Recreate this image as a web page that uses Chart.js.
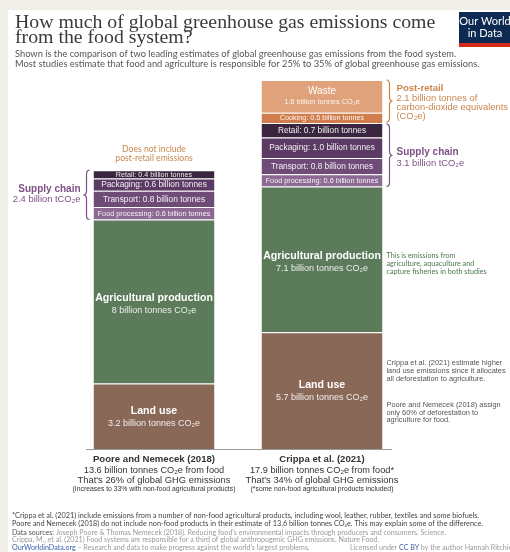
<!DOCTYPE html>
<html>
<head>
<meta charset="utf-8">
<script src="https://cdn.jsdelivr.net/npm/chart.js@4"></script>
<style>
  html, body { margin: 0; padding: 0; background: #fff; }
</style>
</head>
<body>
<canvas id="foodChart" width="510" height="552"></canvas>
<script>
// Data (billion tonnes CO2e)
var studies = ["Poore and Nemecek (2018)", "Crippa et al. (2021)"];
var landUse = [3.2, 5.7];
var agriculture = [8, 7.1];
var foodProcessing = [0.6, 0.6];
var transport = [0.8, 0.8];
var packaging = [0.6, 1.0];
var retail = [0.4, 0.7];
var cooking = [0, 0.5];
var waste = [0, 1.6];
var totals = [13.6, 17.9];
var ghgShare = [26, 34];
var ghgShareWithNonFood = 33;

var SANS = "'Liberation Sans', Arial, sans-serif";
var LATO = "Lato, 'Open Sans', sans-serif";
var PURPLE = "#7d5287";
var ORANGE = "#c8864d";

function text(ctx, str, x, y, font, color, align) {
  ctx.font = font;
  ctx.fillStyle = color;
  ctx.textAlign = align || "left";
  ctx.textBaseline = "middle";
  ctx.fillText(str, x, y);
}

// draws several coloured pieces one after another
function richText(ctx, parts, x, y, size) {
  ctx.textBaseline = "middle";
  ctx.textAlign = "left";
  parts.forEach(function (p) {
    ctx.font = (p.bold ? "bold " : "") + size + "px " + LATO;
    ctx.fillStyle = p.color;
    ctx.fillText(p.t, x, y);
    x += ctx.measureText(p.t).width;
  });
}

function drawBrace(ctx, x, top, bottom, dir, color) {
  var w = 6 * dir, mid = (top + bottom) / 2, r = 4;
  ctx.save();
  ctx.strokeStyle = color;
  ctx.lineWidth = 1.2;
  ctx.beginPath();
  ctx.moveTo(x, top);
  ctx.quadraticCurveTo(x + w / 2, top, x + w / 2, top + r);
  ctx.lineTo(x + w / 2, mid - r);
  ctx.quadraticCurveTo(x + w / 2, mid, x + w, mid);
  ctx.quadraticCurveTo(x + w / 2, mid, x + w / 2, mid + r);
  ctx.lineTo(x + w / 2, bottom - r);
  ctx.quadraticCurveTo(x + w / 2, bottom, x, bottom);
  ctx.stroke();
  ctx.restore();
}

function sum(arrs, i) {
  return arrs.reduce(function (s, a) { return s + a[i]; }, 0);
}

// label text + font size for every segment, [left bar, right bar]
var segmentLabels = {
  "Food processing": function (i) { return ["Food processing: " + foodProcessing[i].toFixed(1) + " billion tonnes", [7.3, 7.3]]; },
  "Transport": function (i) { return ["Transport: " + transport[i].toFixed(1) + " billion tonnes", [8.3, 8.3]]; },
  "Packaging": function (i) { return ["Packaging: " + packaging[i].toFixed(1) + " billion tonnes", [8.3, 8.3]]; },
  "Retail": function (i) { return ["Retail: " + retail[i].toFixed(1) + " billion tonnes", [7.2, 8.3]]; },
  "Cooking": function (i) { return ["Cooking: " + cooking[i].toFixed(1) + " billion tonnes", [7.2, 7.2]]; }
};

var annotations = {
  id: "annotations",
  beforeDraw: function (chart) {
    var ctx = chart.ctx;
    ctx.save();
    ctx.fillStyle = "#efefe8";
    ctx.fillRect(0, 0, chart.width, chart.height);
    ctx.fillStyle = "#ffffff";
    ctx.fillRect(8, 10, chart.width - 8, chart.height - 10);
    ctx.restore();
  },
  afterDatasetsDraw: function (chart) {
    var ctx = chart.ctx;
    ctx.save();
    chart.data.datasets.forEach(function (ds, d) {
      var meta = chart.getDatasetMeta(d);
      meta.data.forEach(function (bar, i) {
        if (!ds.data[i]) return;
        var cx = bar.x, top = bar.y, bottom = bar.base, mid = (top + bottom) / 2;
        if (ds.label === "Agricultural production") {
          text(ctx, "Agricultural production", cx, mid - 3, "bold 10.6px " + SANS, "#ffffff", "center");
          text(ctx, agriculture[i] + " billion tonnes CO₂e", cx, mid + 9, "9px " + SANS, "rgba(255,255,255,0.88)", "center");
        } else if (ds.label === "Land use") {
          text(ctx, "Land use", cx, mid - 5, "bold 10.6px " + SANS, "#ffffff", "center");
          text(ctx, landUse[i] + " billion tonnes CO₂e", cx, mid + 7, "9px " + SANS, "rgba(255,255,255,0.88)", "center");
        } else if (ds.label === "Waste") {
          text(ctx, "Waste", cx, mid - 5, "10px " + SANS, "#ffffff", "center");
          text(ctx, waste[i] + " billion tonnes CO₂e", cx, mid + 6, "7.4px " + SANS, "rgba(255,255,255,0.9)", "center");
        } else if (segmentLabels[ds.label]) {
          var l = segmentLabels[ds.label](i);
          text(ctx, l[0], cx, mid + 0.5, l[1][i] + "px " + SANS, "rgba(255,255,255,0.92)", "center");
        }
      });
    });
    ctx.restore();
  },
  afterDraw: function (chart) {
    var ctx = chart.ctx;
    var x = chart.scales.x, y = chart.scales.y;
    var meta = function (label) {
      var idx = chart.data.datasets.findIndex(function (d) { return d.label === label; });
      return chart.getDatasetMeta(idx).data;
    };
    ctx.save();

    // title and subtitle
    ctx.font = "19.8px 'Liberation Serif', 'DejaVu Serif', serif";
    ctx.fillStyle = "#3a3a3a";
    ctx.textAlign = "left";
    ctx.textBaseline = "alphabetic";
    ctx.fillText("How much of global greenhouse gas emissions come", 15, 28);
    ctx.fillText("from the food system?", 15, 43);
    text(ctx, "Shown is the comparison of two leading estimates of global greenhouse gas emissions from the food system.", 15, 54, "9.3px " + LATO, "#555555");
    text(ctx, "Most studies estimate that food and agriculture is responsible for 25% to 35% of global greenhouse gas emissions.", 15, 64, "9.3px " + LATO, "#555555");

    // logo
    ctx.fillStyle = "#0d2a52";
    ctx.fillRect(459, 12, 51, 35);
    ctx.fillStyle = "#d42b1e";
    ctx.fillRect(459, 43, 51, 4);
    text(ctx, "Our World", 485, 21, "11px " + LATO, "#ffffff", "center");
    text(ctx, "in Data", 485, 33, "11px " + LATO, "#ffffff", "center");

    // baseline
    var x0 = x.getPixelForValue(0), x1 = x.getPixelForValue(1), y0 = y.getPixelForValue(0);
    ctx.strokeStyle = "#9a9a9a";
    ctx.lineWidth = 1;
    ctx.beginPath();
    ctx.moveTo(x0 - 68, y0 + 0.5);
    ctx.lineTo(x1 + 70, y0 + 0.5);
    ctx.stroke();

    // bottom captions
    var notes = ["(Increases to " + ghgShareWithNonFood + "% with non-food agricultural products)", "(*some non-food agricultural products included)"];
    [x0, x1].forEach(function (cx, i) {
      text(ctx, studies[i], cx, 459, "bold 9.6px " + SANS, "#333333", "center");
      text(ctx, totals[i] + " billion tonnes CO₂e from food" + (i ? "*" : ""), cx, 470, "9.2px " + SANS, "#333333", "center");
      text(ctx, "That's " + ghgShare[i] + "% of global GHG emissions", cx, 480, "9.4px " + SANS, "#333333", "center");
      text(ctx, notes[i], cx, 489, "6.8px " + SANS, "#333333", "center");
    });

    // left bar: supply chain brace
    var lTop = meta("Retail")[0], lBot = meta("Food processing")[0];
    var lLeft = lTop.x - lTop.width / 2;
    drawBrace(ctx, lLeft - 4, lTop.y, lBot.base, -1, PURPLE);
    var lMid = (lTop.y + lBot.base) / 2;
    text(ctx, "Supply chain", lLeft - 13, lMid - 6, "bold 10px " + SANS, PURPLE, "right");
    text(ctx, sum([foodProcessing, transport, packaging, retail], 0).toFixed(1) + " billion tCO₂e", lLeft - 13, lMid + 5, "9.4px " + SANS, PURPLE, "right");
    text(ctx, "Does not include", x0, lTop.y - 21, "8.6px " + LATO, ORANGE, "center");
    text(ctx, "post-retail emissions", x0, lTop.y - 12, "8.6px " + LATO, ORANGE, "center");

    // right bar braces
    var wTop = meta("Waste")[1], cBot = meta("Cooking")[1];
    var rTop = meta("Retail")[1], fBot = meta("Food processing")[1];
    var rRight = wTop.x + wTop.width / 2;
    drawBrace(ctx, rRight + 4, wTop.y, cBot.base - 1, 1, ORANGE);
    drawBrace(ctx, rRight + 4, rTop.y + 1, fBot.base, 1, PURPLE);
    var pMid = (wTop.y + cBot.base) / 2;
    var tx = rRight + 14;
    text(ctx, "Post-retail", tx, pMid - 13, "bold 9.6px " + SANS, ORANGE);
    text(ctx, sum([cooking, waste], 1).toFixed(1) + " billion tonnes of", tx, pMid - 3, "9.4px " + SANS, ORANGE);
    text(ctx, "carbon-dioxide equivalents", tx, pMid + 6, "9.4px " + SANS, ORANGE);
    text(ctx, "(CO₂e)", tx, pMid + 15, "9.4px " + SANS, ORANGE);
    var sMid = (rTop.y + fBot.base) / 2;
    text(ctx, "Supply chain", tx, sMid - 3, "bold 10px " + SANS, PURPLE);
    text(ctx, sum([foodProcessing, transport, packaging, retail], 1).toFixed(1) + " billion tCO₂e", tx, sMid + 9, "9.4px " + SANS, PURPLE);

    // side notes
    var agri = meta("Agricultural production")[1];
    var ay = (agri.y + agri.base) / 2;
    text(ctx, "This is emissions from", rRight + 4, ay - 4, "7.2px " + LATO, "#4c7a4c");
    text(ctx, "agriculture, aquaculture and", rRight + 4, ay + 4, "7.2px " + LATO, "#4c7a4c");
    text(ctx, "capture fisheries in both studies", rRight + 4, ay + 12, "7.2px " + LATO, "#4c7a4c");
    var land = meta("Land use")[1];
    var ly = land.y + 31;
    ["Crippa et al. (2021) estimate higher", "land use emissions since it allocates", "all deforestation to agriculture."].forEach(function (s, k) {
      text(ctx, s, rRight + 4, ly + k * 8, "7.4px " + SANS, "#555555");
    });
    ["Poore and Nemecek (2018) assign", "only 60% of deforestation to", "agriculture for food."].forEach(function (s, k) {
      text(ctx, s, rRight + 4, ly + 42 + k * 7.5, "7.4px " + SANS, "#555555");
    });

    // footer
    text(ctx, "*Crippa et al. (2021) include emissions from a number of non-food agricultural products, including wool, leather, rubber, textiles and some biofuels.", 12, 516, "7.3px " + LATO, "#444444");
    text(ctx, "Poore and Nemecek (2018) do not include non-food products in their estimate of 13.6 billion tonnes CO₂e. This may explain some of the difference.", 12, 523.5, "7.3px " + LATO, "#444444");
    richText(ctx, [{ t: "Data sources: ", color: "#555555" }, { t: "Joseph Poore & Thomas Nemecek (2018). Reducing food's environmental impacts through producers and consumers. Science.", color: "#9a9a9a" }], 12, 533, 7.1);
    richText(ctx, [{ t: "Crippa, M., et al. (2021) Food systems are responsible for a third of global anthropogenic GHG emissions. Nature Food.", color: "#9a9a9a" }], 12, 540, 7.1);
    richText(ctx, [{ t: "OurWorldinData.org", color: "#3b5ea6" }, { t: " – Research and data to make progress against the world's largest problems.", color: "#9a9a9a" }], 12, 548, 7.1);
    richText(ctx, [{ t: "Licensed under ", color: "#9a9a9a" }, { t: "CC BY", color: "#3b5ea6" }, { t: " by the author Hannah Ritchie", color: "#9a9a9a" }], 350, 548, 7.1);

    ctx.restore();
  }
};

function segment(label, data, color) {
  return {
    label: label,
    data: data,
    backgroundColor: color,
    borderColor: "rgba(255,255,255,0.35)",
    borderWidth: { top: 1, bottom: 0, left: 0, right: 0 },
    borderSkipped: false
  };
}

var ctx = document.getElementById("foodChart").getContext("2d");
var foodChart = new Chart(ctx, {
  type: "bar",
  data: {
    labels: studies,
    datasets: [
      segment("Land use", landUse, "#8a6858"),
      segment("Agricultural production", agriculture, "#5c7b5b"),
      segment("Food processing", foodProcessing, "#8c6a93"),
      segment("Transport", transport, "#6f4b78"),
      segment("Packaging", packaging, "#5b3b64"),
      segment("Retail", retail, "#3b263f"),
      segment("Cooking", cooking, "#d27e4c"),
      segment("Waste", waste, "#e0a27a")
    ]
  },
  options: {
    responsive: false,
    animation: false,
    layout: { padding: { top: 80, bottom: 103, left: 70, right: 104 } },
    plugins: { legend: { display: false }, tooltip: { enabled: false } },
    scales: {
      x: { stacked: true, display: false, barPercentage: 0.73, categoryPercentage: 1 },
      y: { stacked: true, display: false, min: 0, max: 18 }
    }
  },
  plugins: [annotations]
});
</script>
</body>
</html>
